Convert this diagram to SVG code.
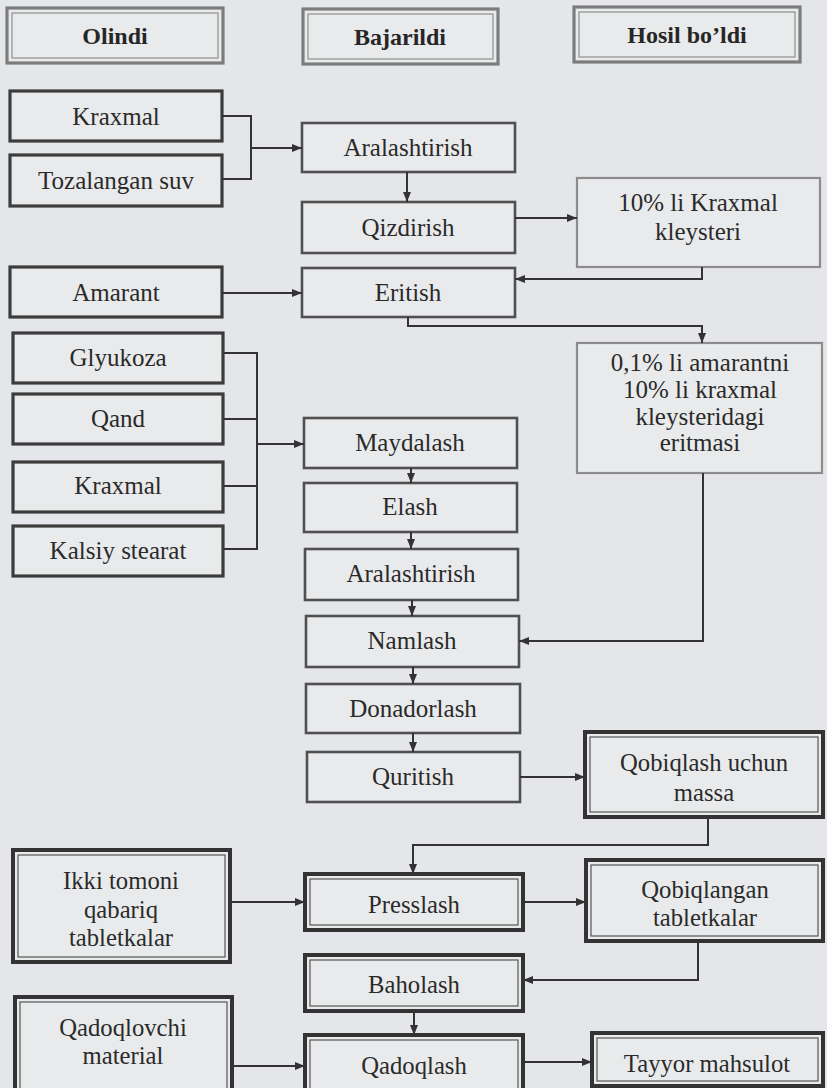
<svg xmlns="http://www.w3.org/2000/svg" width="827" height="1088" viewBox="0 0 827 1088">
  <defs>
    <marker id="arrow" markerUnits="userSpaceOnUse" markerWidth="10" markerHeight="8" refX="10" refY="4" orient="auto">
      <path d="M0,0 L10,4 L0,8 z" fill="#333"/>
    </marker>
    <style>
      .bg { fill: #e4e6e9; }
      .in { fill: #e9eaec; stroke: #3c3c3c; stroke-width: 3.2; }
      .step { fill: #e9eaec; stroke: #505050; stroke-width: 2.6; }
      .thin { fill: #e9eaec; stroke: #8c8c8c; stroke-width: 2.2; }
      .hdr-o { fill: #e9eaec; stroke: #7c7c7c; stroke-width: 3.2; }
      .hdr-i { fill: none; stroke: #8e8e8e; stroke-width: 1.2; }
      .dbl-o { fill: #e9eaec; stroke: #333; stroke-width: 4; }
      .dbl-i { fill: none; stroke: #555; stroke-width: 1.2; }
      .t { font-family: "Liberation Serif", "Times New Roman", serif; font-size: 25px; fill: #2a2a2a; text-anchor: middle; }
      .h { font-family: "Liberation Serif", "Times New Roman", serif; font-size: 24px; font-weight: bold; fill: #262626; text-anchor: middle; }
      .c { font-family: "Liberation Serif", "Times New Roman", serif; font-size: 26px; fill: #2a2a2a; text-anchor: middle; }
      .link { fill: none; stroke: #333; stroke-width: 2; }
    </style>
  </defs>

  <rect class="bg" x="0" y="0" width="827" height="1088"/>

  <!-- column headers -->
  <g id="hdr-olindi">
    <rect class="hdr-o" x="7" y="8" width="216" height="55"/>
    <rect class="hdr-i" x="12" y="13" width="206" height="45"/>
    <text class="h" x="115" y="44">Olindi</text>
  </g>
  <g id="hdr-bajarildi">
    <rect class="hdr-o" x="303" y="9" width="195" height="55"/>
    <rect class="hdr-i" x="308" y="14" width="185" height="45"/>
    <text class="h" x="400" y="45">Bajarildi</text>
  </g>
  <g id="hdr-hosil">
    <rect class="hdr-o" x="574" y="7" width="226" height="55"/>
    <rect class="hdr-i" x="579" y="12" width="216" height="45"/>
    <text class="h" x="687" y="43">Hosil bo’ldi</text>
  </g>

  <!-- raw materials -->
  <g id="in-kraxmal-1">
    <rect class="in" x="10" y="91" width="212" height="50"/>
    <text class="t" x="116" y="125">Kraxmal</text>
  </g>
  <g id="in-suv">
    <rect class="in" x="10" y="155" width="212" height="51"/>
    <text class="t" x="116" y="189">Tozalangan suv</text>
  </g>
  <g id="in-amarant">
    <rect class="in" x="10" y="267" width="212" height="50"/>
    <text class="t" x="116" y="301">Amarant</text>
  </g>
  <g id="in-glyukoza">
    <rect class="in" x="13" y="333" width="210" height="50"/>
    <text class="t" x="118" y="366">Glyukoza</text>
  </g>
  <g id="in-qand">
    <rect class="in" x="13" y="394" width="210" height="50"/>
    <text class="t" x="118" y="427">Qand</text>
  </g>
  <g id="in-kraxmal-2">
    <rect class="in" x="13" y="462" width="210" height="50"/>
    <text class="t" x="118" y="494">Kraxmal</text>
  </g>
  <g id="in-kalsiy">
    <rect class="in" x="13" y="526" width="210" height="50"/>
    <text class="t" x="118" y="559">Kalsiy stearat</text>
  </g>

  <!-- process steps -->
  <g id="st-aralash-1">
    <rect class="step" x="302" y="123" width="213" height="49"/>
    <text class="t" x="408" y="156">Aralashtirish</text>
  </g>
  <g id="st-qizdirish">
    <rect class="step" x="302" y="202" width="213" height="51"/>
    <text class="t" x="408" y="236">Qizdirish</text>
  </g>
  <g id="st-eritish">
    <rect class="step" x="302" y="268" width="213" height="49"/>
    <text class="t" x="408" y="301">Eritish</text>
  </g>
  <g id="st-maydalash">
    <rect class="step" x="304" y="418" width="213" height="50"/>
    <text class="t" x="410" y="451">Maydalash</text>
  </g>
  <g id="st-elash">
    <rect class="step" x="304" y="483" width="213" height="49"/>
    <text class="t" x="410" y="515">Elash</text>
  </g>
  <g id="st-aralash-2">
    <rect class="step" x="305" y="549" width="213" height="51"/>
    <text class="t" x="411" y="582">Aralashtirish</text>
  </g>
  <g id="st-namlash">
    <rect class="step" x="306" y="616" width="213" height="51"/>
    <text class="t" x="412" y="649">Namlash</text>
  </g>
  <g id="st-donadorlash">
    <rect class="step" x="306" y="684" width="214" height="49"/>
    <text class="t" x="413" y="717">Donadorlash</text>
  </g>
  <g id="st-quritish">
    <rect class="step" x="307" y="752" width="213" height="50"/>
    <text class="t" x="413" y="785">Quritish</text>
  </g>

  <!-- intermediate products -->
  <g id="out-kleyster">
    <rect class="thin" x="577" y="178" width="243" height="89"/>
    <text class="t" x="698" y="211">10% li Kraxmal</text>
    <text class="t" x="698" y="240">kleysteri</text>
  </g>
  <g id="out-eritma">
    <rect class="thin" x="577" y="343" width="245" height="130"/>
    <text class="t" x="700" y="371">0,1% li amarantni</text>
    <text class="t" x="700" y="398">10% li kraxmal</text>
    <text class="t" x="700" y="425">kleysteridagi</text>
    <text class="t" x="700" y="451">eritmasi</text>
  </g>
  <g id="out-massa">
    <rect class="dbl-o" x="585" y="732" width="238" height="85"/>
    <rect class="dbl-i" x="590" y="737" width="228" height="75"/>
    <text class="c" transform="translate(704 771) scale(0.95 1)">Qobiqlash uchun</text>
    <text class="c" transform="translate(704 801) scale(0.95 1)">massa</text>
  </g>

  <!-- coating and packing stage -->
  <g id="in-tabletka">
    <rect class="dbl-o" x="13" y="850" width="217" height="112"/>
    <rect class="dbl-i" x="18" y="855" width="207" height="102"/>
    <text class="c" transform="translate(121 889) scale(0.95 1)">Ikki tomoni</text>
    <text class="c" transform="translate(121 918) scale(0.95 1)">qabariq</text>
    <text class="c" transform="translate(121 946) scale(0.95 1)">tabletkalar</text>
  </g>
  <g id="in-qadoq">
    <rect class="dbl-o" x="15" y="997" width="217" height="100"/>
    <rect class="dbl-i" x="20" y="1002" width="207" height="90"/>
    <text class="c" transform="translate(123 1036) scale(0.95 1)">Qadoqlovchi</text>
    <text class="c" transform="translate(123 1064) scale(0.95 1)">material</text>
  </g>
  <g id="st-presslash">
    <rect class="dbl-o" x="305" y="874" width="218" height="56"/>
    <rect class="dbl-i" x="310" y="879" width="208" height="46"/>
    <text class="c" transform="translate(414 913) scale(0.95 1)">Presslash</text>
  </g>
  <g id="st-baholash">
    <rect class="dbl-o" x="305" y="955" width="218" height="56"/>
    <rect class="dbl-i" x="310" y="960" width="208" height="46"/>
    <text class="c" transform="translate(414 993) scale(0.95 1)">Baholash</text>
  </g>
  <g id="st-qadoqlash">
    <rect class="dbl-o" x="305" y="1035" width="218" height="60"/>
    <rect class="dbl-i" x="310" y="1040" width="208" height="50"/>
    <text class="c" transform="translate(414 1074) scale(0.95 1)">Qadoqlash</text>
  </g>
  <g id="out-qobiqlangan">
    <rect class="dbl-o" x="586" y="860" width="237" height="81"/>
    <rect class="dbl-i" x="591" y="865" width="227" height="71"/>
    <text class="c" transform="translate(705 898) scale(0.95 1)">Qobiqlangan</text>
    <text class="c" transform="translate(705 926) scale(0.95 1)">tabletkalar</text>
  </g>
  <g id="out-tayyor">
    <rect class="dbl-o" x="592" y="1033" width="231" height="53"/>
    <rect class="dbl-i" x="597" y="1038" width="221" height="43"/>
    <text class="c" transform="translate(707 1072) scale(0.95 1)">Tayyor mahsulot</text>
  </g>

  <!-- connectors -->
  <g id="connectors">
    <path class="link" d="M222,116 H251 V179 H222"/>
    <path class="link" d="M251,148 H302" marker-end="url(#arrow)"/>
    <path class="link" d="M407,172 V202" marker-end="url(#arrow)"/>
    <path class="link" d="M515,218 H577" marker-end="url(#arrow)"/>
    <path class="link" d="M702,267 V279 H515" marker-end="url(#arrow)"/>
    <path class="link" d="M222,293 H302" marker-end="url(#arrow)"/>
    <path class="link" d="M408,317 V326 H702 V343" marker-end="url(#arrow)"/>
    <path class="link" d="M223,353 H257 V549 H223 M223,419 H257 M223,486 H257"/>
    <path class="link" d="M257,444 H304" marker-end="url(#arrow)"/>
    <path class="link" d="M411,468 V483" marker-end="url(#arrow)"/>
    <path class="link" d="M411,532 V549" marker-end="url(#arrow)"/>
    <path class="link" d="M412,600 V616" marker-end="url(#arrow)"/>
    <path class="link" d="M703,473 V641 H519" marker-end="url(#arrow)"/>
    <path class="link" d="M413,667 V684" marker-end="url(#arrow)"/>
    <path class="link" d="M413,733 V752" marker-end="url(#arrow)"/>
    <path class="link" d="M520,777 H585" marker-end="url(#arrow)"/>
    <path class="link" d="M708,817 V845 H413 V874" marker-end="url(#arrow)"/>
    <path class="link" d="M230,902 H305" marker-end="url(#arrow)"/>
    <path class="link" d="M523,902 H586" marker-end="url(#arrow)"/>
    <path class="link" d="M698,941 V980 H523" marker-end="url(#arrow)"/>
    <path class="link" d="M414,1011 V1035" marker-end="url(#arrow)"/>
    <path class="link" d="M232,1066 H305" marker-end="url(#arrow)"/>
    <path class="link" d="M523,1062 H592" marker-end="url(#arrow)"/>
  </g>
</svg>
